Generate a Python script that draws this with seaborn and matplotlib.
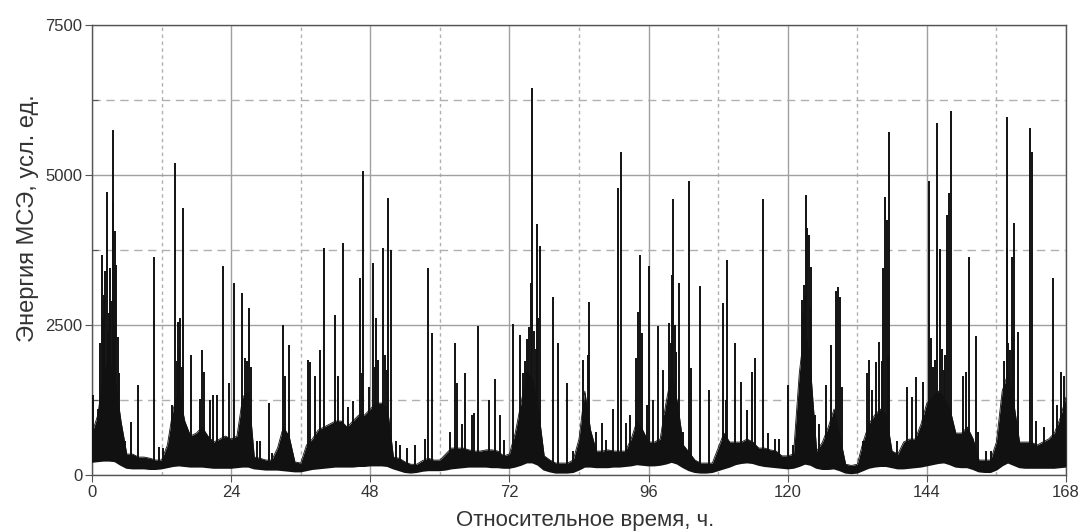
import numpy as np
import pandas as pd
import seaborn as sns
from matplotlib import pyplot as plt
from matplotlib.ticker import MultipleLocator

# hourly grid, 0..168 h
hours = np.arange(0, 169)

# upper edge of the dense "noise" band, read hour by hour
noise_top = [
    700, 1000, 1700, 1900, 1600, 900,
    350, 350, 300, 300, 280, 250, 250,
    500, 1100, 1400, 900, 650, 700, 800, 650,
    550, 600, 650, 600, 650, 1300, 1400,
    300, 280, 250, 250,
    450, 800, 650, 220, 200,
    500, 600, 750, 800, 850, 900, 900, 800, 900, 1000, 1000, 1100, 1200, 1200, 1100,
    300, 280, 220, 180, 180, 240, 280, 250, 250,
    350, 450, 450, 450, 420, 400, 400, 420, 420, 400, 320, 350,
    700, 1200, 1700, 1600, 1100,
    320, 250, 200, 200, 200, 250,
    600, 1400, 750,
    400, 400, 420, 400, 400, 400,
    600, 900, 750, 550, 550, 600,
    1200, 1700, 1200,
    500, 380, 250, 200, 200, 200,
    450, 700, 550, 550, 550, 600, 550, 450, 450, 420, 400, 320, 320, 350,
    1700, 2500, 1700,
    400, 550, 800, 1100, 650,
    180, 160, 180,
    550, 850, 1000, 1100, 1000,
    400, 350, 550, 600, 600,
    850, 1200, 1300, 1400, 1300, 1100,
    700, 700, 800, 600,
    250, 250, 250,
    550, 1400, 1700, 1200,
    550, 550, 550, 500, 550, 600, 700, 950, 1300,
]

# lower edge (baseline) of the signal
base = [
    230, 240, 250, 250, 240, 180, 130, 120, 120, 120, 110, 110, 120, 140, 160, 170,
    160, 150, 150, 150, 140, 130, 130, 130, 130, 140, 150, 150, 120, 110, 100, 100,
    100, 90, 80, 70, 70, 90, 110, 120, 130, 140, 150, 150, 150, 150, 160, 160,
    170, 170, 170, 160, 120, 90, 60, 50, 60, 80, 90, 90, 90, 100, 120, 130,
    140, 150, 150, 150, 150, 140, 140, 130, 130, 150, 180, 220, 220, 180, 100, 70,
    50, 50, 50, 60, 100, 150, 150, 140, 140, 140, 150, 150, 160, 170, 190, 180,
    170, 170, 180, 200, 230, 200, 140, 90, 60, 50, 50, 60, 90, 120, 150, 190,
    210, 220, 210, 180, 160, 150, 140, 130, 120, 130, 160, 200, 180, 130, 110, 110,
    120, 90, 50, 40, 50, 90, 130, 150, 160, 160, 140, 120, 120, 130, 140, 150,
    170, 190, 210, 220, 190, 150, 140, 140, 110, 70, 60, 60, 100, 170, 220, 180,
    140, 130, 130, 130, 130, 130, 130, 140, 150,
]

# isolated spikes: time (h) and peak energy
spike_t = [
    0.2, 1.0, 1.67, 2.0, 2.53, 2.9, 3.1, 3.55, 3.67, 3.97, 4.2, 4.6, 5.7, 6.7, 7.9, 10.7,
    11.6, 12.3, 13.85, 14.4, 14.8, 15.2, 15.75, 17.1, 18.6, 18.9, 19.4, 20.3, 20.9, 21.5,
    22.65, 23.6, 24.5, 25.9, 26.4, 27.1, 28.4, 29.0, 30.6, 31.0, 33.0, 33.3, 34.0, 37.3,
    37.6, 38.5, 39.3, 40.1, 41.9, 42.5, 43.35, 44.2, 45.1, 46.2, 46.7, 47.7, 48.4, 49.0,
    49.4, 50.25, 50.8, 51.1, 51.6, 52.5, 53.2, 54.3, 55.7, 57.4, 58.0, 58.6, 61.75, 62.6,
    62.9, 63.75, 64.3, 65.5, 65.9, 66.5, 68.5, 69.5, 70.4, 71.0, 72.56, 73.9, 74.3, 75.0,
    75.4, 75.7, 75.9, 76.7, 76.9, 77.3, 79.6, 80.4, 81.9, 83.0, 84.75, 85.8, 87.0, 88.0,
    88.7, 89.8, 90.8, 91.2, 92.1, 92.8, 93.8, 94.1, 94.5, 94.9, 95.7, 96.1, 96.8, 97.7,
    98.5, 98.9, 99.5, 100.0, 100.3, 100.8, 101.3, 102.0, 103.0, 103.3, 104.9, 106.5,
    108.9, 109.3, 109.6, 110.9, 111.9, 112.9, 113.8, 114.4, 115.8, 116.6, 117.8, 118.5,
    120.0, 121.0, 122.4, 122.8, 123.2, 123.4, 123.7, 124.1, 124.7, 125.4, 126.6, 127.4,
    128.3, 128.7, 129.0, 129.4, 133.0, 133.6, 134.1, 134.6, 135.2, 135.8, 136.4, 136.7,
    137.1, 137.5, 138.8, 140.5, 141.4, 142.1, 143.4, 144.4, 144.8, 145.4, 145.8, 146.3,
    146.9, 147.5, 147.9, 148.2, 150.3, 150.8, 151.3, 152.4, 152.9, 154.2, 155.1, 157.75,
    157.9, 158.3, 158.7, 159.07, 159.65, 161.8, 162.2, 162.9, 164.2, 165.8, 166.4, 167.2,
    167.6,
]
spike_v = [
    1330, 1100, 3670, 3000, 4720, 2700, 3450, 4570, 5750, 4060, 3500, 1700, 560, 890, 1500, 3630,
    470, 450, 1170, 5200, 2550, 2620, 4450, 2000, 1270, 2080, 1720, 1250, 1330, 1330,
    3490, 1530, 3200, 3030, 1950, 2780, 560, 560, 1200, 360, 2500, 1650, 2170, 1920,
    1880, 1650, 2080, 3780, 2670, 1650, 3870, 1130, 1230, 3290, 5070, 1470, 3530, 2620,
    1920, 3780, 1750, 4620, 3750, 560, 500, 450, 500, 600, 3450, 2370, 720, 2200,
    1530, 850, 1700, 1000, 1030, 2480, 1250, 1600, 1000, 580, 2520, 2330, 1700, 2270,
    2470, 3200, 6450, 4180, 2620, 3820, 2970, 2200, 1530, 400, 1920, 2890, 720, 870,
    580, 1100, 4780, 5380, 870, 1000, 1950, 2720, 3670, 2370, 1170, 3480, 1250, 2480,
    1750, 1000, 2530, 3330, 4600, 2050, 3200, 720, 4900, 1780, 3150, 1420,
    2870, 1250, 3580, 2200, 1550, 1080, 1720, 1950, 4600, 700, 600, 600,
    1500, 500, 2920, 3170, 4670, 4120, 4000, 3470, 1000, 850, 1500, 2170,
    3060, 3130, 2970, 1470, 560, 1700, 1920, 1420, 1880, 2220, 3450, 4640,
    4250, 5720, 560, 1470, 1300, 1640, 1550, 4900, 2280, 1920, 5870, 3770,
    1750, 4330, 4700, 6070, 1650, 1720, 3640, 2320, 720, 400, 400, 5970,
    3780, 2080, 3630, 4200, 2390, 5780, 5390, 900, 800, 3280, 1170, 1720,
    1650,
]

# shorter lines inside the dense bursts
burst_t = [
    1.3, 1.9, 2.2, 2.7, 3.3, 3.8, 4.4, 14.6, 15.0, 15.5, 26.7, 27.4, 46.5, 48.8, 50.5,
    74.7, 76.2, 76.5, 85.5, 99.8, 100.6, 122.6, 123.0, 123.9, 136.2, 137.3, 145.1,
    146.6, 147.2, 157.3, 158.0, 158.9,
]
burst_v = [
    2200, 2600, 3400, 2400, 2900, 2500, 2300, 1900, 2100, 1800, 1900, 1800, 1700, 1800, 2000,
    1900, 2400, 2100, 2000, 2200, 2500, 2700, 3000, 2800, 1900, 2000, 1800,
    2100, 2000, 1900, 2200, 2300,
]

df = pd.DataFrame({'hour': hours, 'base': base, 'top': noise_top})
spikes = pd.DataFrame({'t': spike_t + burst_t, 'v': spike_v + burst_v})

sns.set_style('white')
plt.rcParams['font.family'] = ['Liberation Sans', 'DejaVu Sans']

fig = plt.figure(figsize=(10.81, 5.32), dpi=100)
ax = fig.add_axes([0.0851, 0.107, 0.9010, 0.846])

# dense band
ax.fill_between(df['hour'], df['base'], df['top'], color='#111111', lw=0, zorder=3)
sns.lineplot(data=df, x='hour', y='top', ax=ax, color='#111111', lw=0.6, zorder=3)
sns.lineplot(data=df, x='hour', y='base', ax=ax, color='#111111', lw=2.2, zorder=3)

# spikes
base_at = np.interp(spikes['t'], df['hour'], df['base'])
ax.vlines(spikes['t'], base_at, spikes['v'], color='#111111', lw=1.4, zorder=4)

ax.set_xlim(0, 168)
ax.set_ylim(0, 7500)
ax.xaxis.set_major_locator(MultipleLocator(24))
ax.xaxis.set_minor_locator(MultipleLocator(12))
ax.yaxis.set_major_locator(MultipleLocator(2500))
ax.yaxis.set_minor_locator(MultipleLocator(1250))

ax.grid(which='major', color='#a0a0a0', lw=1.0, ls='-', zorder=0)
ax.xaxis.grid(which='minor', color='#b0b0b0', lw=1.0, ls=(0, (2.5, 2.5)), zorder=0)
ax.yaxis.grid(which='minor', color='#b0b0b0', lw=1.0, ls=(0, (6, 4)), zorder=0)

ax.tick_params(axis='both', which='major', direction='out', length=5, width=0.8,
               color='#555555', labelsize=12, labelcolor='#333333', pad=2,
               left=True, bottom=True)
ax.tick_params(axis='y', which='minor', direction='in', length=4, width=0.8,
               color='#555555', left=True)
ax.tick_params(axis='x', which='minor', length=0)

for s in ax.spines.values():
    s.set_color('#555555')
    s.set_linewidth(1.0)

ax.set_xlabel('Относительное время, ч.', fontsize=16, color='#333333')
ax.set_ylabel('Энергия МСЭ, усл. ед.', fontsize=17, color='#333333')
ax.xaxis.set_label_coords(0.506, -0.078)
ax.yaxis.set_label_coords(-0.054, 0.571)

fig.savefig('out.png', dpi=100, facecolor='white')
